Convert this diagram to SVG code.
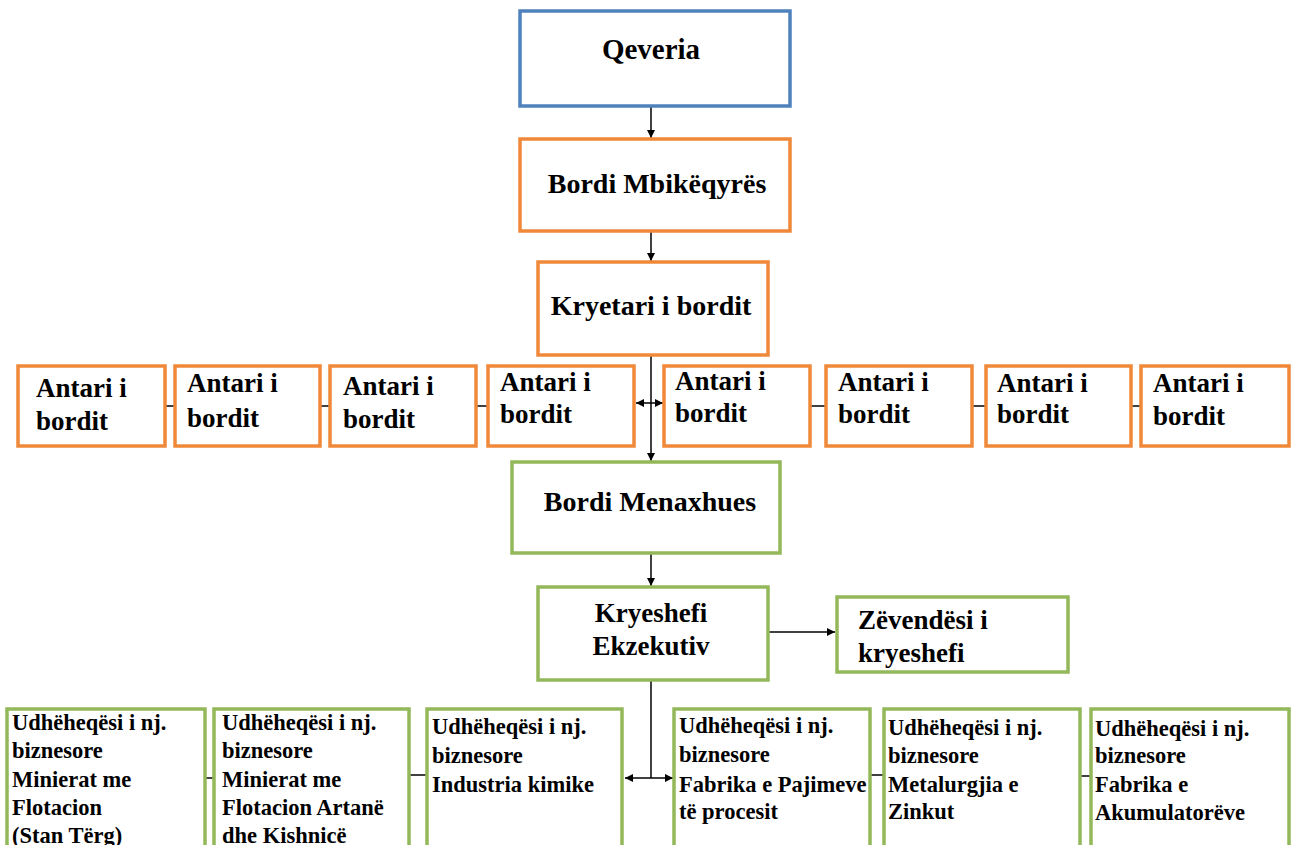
<svg xmlns="http://www.w3.org/2000/svg" width="1295" height="845" viewBox="0 0 1295 845">
<style>
.box{fill:#fff;stroke-width:3.5}
.blue{stroke:#4F81BD}
.orange{stroke:#F0883A}
.green{stroke:#93B85A}
text{font-family:"Liberation Serif","Times New Roman",serif;font-weight:bold;fill:#000}
.t27{font-size:27px}
.t28{font-size:28px}
.t23{font-size:22.5px}
.c{text-anchor:middle}
.ln{stroke:#000;stroke-width:1.5;fill:none}
</style>
<defs>
<marker id="ah" viewBox="0 0 10 10" refX="10" refY="5" markerWidth="8" markerHeight="8" markerUnits="userSpaceOnUse" orient="auto-start-reverse">
<path d="M0,0 L10,5 L0,10 z" fill="#000"/>
</marker>
</defs>
<rect width="1295" height="845" fill="#fff"/>
<g id="connectors">
<line class="ln" x1="651" y1="106" x2="651" y2="138" marker-end="url(#ah)"/>
<line class="ln" x1="651" y1="231" x2="651" y2="261" marker-end="url(#ah)"/>
<line class="ln" x1="651" y1="355" x2="651" y2="461" marker-end="url(#ah)"/>
<line class="ln" x1="636" y1="403" x2="663" y2="403" marker-start="url(#ah)" marker-end="url(#ah)"/>
<line class="ln" x1="165" y1="406" x2="175" y2="406"/>
<line class="ln" x1="320" y1="406" x2="330" y2="406"/>
<line class="ln" x1="476" y1="406" x2="488" y2="406"/>
<line class="ln" x1="810" y1="406" x2="826" y2="406"/>
<line class="ln" x1="972" y1="406" x2="986" y2="406"/>
<line class="ln" x1="1131" y1="406" x2="1141" y2="406"/>
<line class="ln" x1="651" y1="553" x2="651" y2="586" marker-end="url(#ah)"/>
<line class="ln" x1="768" y1="632" x2="835" y2="632" marker-end="url(#ah)"/>
<line class="ln" x1="651" y1="680" x2="651" y2="778"/>
<line class="ln" x1="625" y1="778" x2="673" y2="778" marker-start="url(#ah)" marker-end="url(#ah)"/>
<line class="ln" x1="205" y1="778" x2="214" y2="778"/>
<line class="ln" x1="409" y1="775" x2="427" y2="775"/>
<line class="ln" x1="870" y1="775" x2="884" y2="775"/>
<line class="ln" x1="1080" y1="776" x2="1091" y2="776"/>
</g>
<g id="qeveria"><rect class="box blue" x="520" y="11" width="270" height="95"/><text class="c" style="font-size:29px" x="651" y="59">Qeveria</text></g>
<g id="bordi-mbikeqyres"><rect class="box orange" x="520" y="139" width="270" height="92"/><text class="t28 c" x="657" y="193">Bordi Mbikëqyrës</text></g>
<g id="kryetari"><rect class="box orange" x="538" y="262" width="230" height="93"/><text class="t28 c" x="651" y="315">Kryetari i bordit</text></g>
<g id="antari1"><rect class="box orange" x="18" y="366" width="147" height="80"/><text class="t27" x="36" y="397">Antari i</text><text class="t27" x="36" y="430">bordit</text></g>
<g id="antari2"><rect class="box orange" x="175" y="366" width="145" height="80"/><text class="t27" x="187" y="392">Antari i</text><text class="t27" x="187" y="427">bordit</text></g>
<g id="antari3"><rect class="box orange" x="330" y="366" width="146" height="80"/><text class="t27" x="343" y="395">Antari i</text><text class="t27" x="343" y="428">bordit</text></g>
<g id="antari4"><rect class="box orange" x="488" y="366" width="146" height="80"/><text class="t27" x="500" y="391">Antari i</text><text class="t27" x="500" y="423">bordit</text></g>
<g id="antari5"><rect class="box orange" x="664" y="366" width="146" height="80"/><text class="t27" x="675" y="390">Antari i</text><text class="t27" x="675" y="422">bordit</text></g>
<g id="antari6"><rect class="box orange" x="826" y="366" width="146" height="80"/><text class="t27" x="838" y="391">Antari i</text><text class="t27" x="838" y="423">bordit</text></g>
<g id="antari7"><rect class="box orange" x="986" y="366" width="145" height="80"/><text class="t27" x="997" y="392">Antari i</text><text class="t27" x="997" y="423">bordit</text></g>
<g id="antari8"><rect class="box orange" x="1141" y="366" width="148" height="80"/><text class="t27" x="1153" y="392">Antari i</text><text class="t27" x="1153" y="425">bordit</text></g>
<g id="bordi-menaxhues"><rect class="box green" x="512" y="462" width="268" height="91"/><text class="t28 c" x="650" y="511">Bordi Menaxhues</text></g>
<g id="kryeshefi"><rect class="box green" x="538" y="587" width="230" height="93"/><text class="t27 c" x="651" y="622">Kryeshefi</text><text class="t27 c" x="651" y="655">Ekzekutiv</text></g>
<g id="zevendesi"><rect class="box green" x="837" y="597" width="231" height="75"/><text class="t27" x="858" y="629">Zëvendësi i</text><text class="t27" x="858" y="662">kryeshefi</text></g>
<g id="njesia1"><rect class="box green" x="7" y="709" width="198" height="150"/><text class="t23" x="12" y="730">Udhëheqësi i nj.</text><text class="t23" x="12" y="758">biznesore</text><text class="t23" x="12" y="787">Minierat me</text><text class="t23" x="12" y="815">Flotacion</text><text class="t23" x="12" y="843">(Stan Tërg)</text></g>
<g id="njesia2"><rect class="box green" x="214" y="709" width="195" height="150"/><text class="t23" x="222" y="730">Udhëheqësi i nj.</text><text class="t23" x="222" y="758">biznesore</text><text class="t23" x="222" y="787">Minierat me</text><text class="t23" x="222" y="815">Flotacion Artanë</text><text class="t23" x="222" y="843">dhe Kishnicë</text></g>
<g id="njesia3"><rect class="box green" x="427" y="709" width="195" height="150"/><text class="t23" x="432" y="734">Udhëheqësi i nj.</text><text class="t23" x="432" y="763">biznesore</text><text class="t23" x="432" y="792">Industria kimike</text></g>
<g id="njesia4"><rect class="box green" x="674" y="709" width="196" height="150"/><text class="t23" x="679" y="733">Udhëheqësi i nj.</text><text class="t23" x="679" y="762">biznesore</text><text class="t23" x="679" y="792">Fabrika e Pajimeve</text><text class="t23" x="679" y="819">të procesit</text></g>
<g id="njesia5"><rect class="box green" x="884" y="709" width="196" height="150"/><text class="t23" x="888" y="735">Udhëheqësi i nj.</text><text class="t23" x="888" y="763">biznesore</text><text class="t23" x="888" y="792">Metalurgjia e</text><text class="t23" x="888" y="819">Zinkut</text></g>
<g id="njesia6"><rect class="box green" x="1091" y="709" width="198" height="150"/><text class="t23" x="1095" y="736">Udhëheqësi i nj.</text><text class="t23" x="1095" y="763">biznesore</text><text class="t23" x="1095" y="792">Fabrika e</text><text class="t23" x="1095" y="820">Akumulatorëve</text></g>
</svg>
